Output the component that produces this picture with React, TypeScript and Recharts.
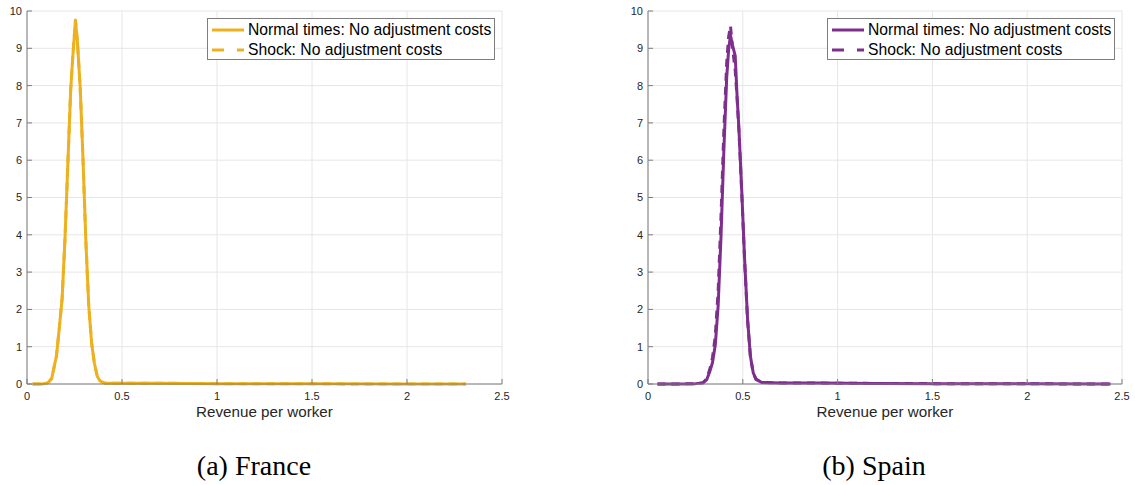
import { LineChart, Line, XAxis, YAxis, CartesianGrid, Legend } from "recharts";

const X_TICKS = [0, 0.5, 1, 1.5, 2, 2.5];
const Y_TICKS = [0, 1, 2, 3, 4, 5, 6, 7, 8, 9, 10];

const SERIES_NAMES = ["Normal times: No adjustment costs", "Shock: No adjustment costs"];

// France
const franceX = [0.03, 0.08, 0.11, 0.13, 0.155, 0.17, 0.185, 0.2, 0.215, 0.23, 0.24, 0.255, 0.265, 0.28, 0.295, 0.31, 0.325, 0.34, 0.355, 0.37, 0.385, 0.41, 0.5, 0.7, 1.0, 1.5, 2.0, 2.31];
const franceNormal = [0, 0, 0.03, 0.15, 0.75, 1.5, 2.3, 3.9, 5.9, 7.9, 8.7, 9.75, 9.2, 7.95, 6.0, 3.8, 2.1, 1.1, 0.55, 0.2, 0.08, 0.02, 0.02, 0.02, 0.01, 0.005, 0, 0];
const franceShock = [0, 0, 0.03, 0.15, 0.75, 1.5, 2.3, 3.9, 5.9, 7.9, 8.7, 9.75, 9.2, 7.95, 6.0, 3.8, 2.1, 1.1, 0.55, 0.2, 0.08, 0.02, 0.02, 0.02, 0.01, 0.005, 0, 0];

// Spain
const spainX = [0.05, 0.15, 0.25, 0.29, 0.31, 0.325, 0.34, 0.355, 0.37, 0.385, 0.4, 0.415, 0.425, 0.435, 0.445, 0.46, 0.47, 0.48, 0.495, 0.51, 0.525, 0.54, 0.555, 0.57, 0.6, 0.7, 0.9, 1.2, 1.5, 2.0, 2.44];
const spainNormal = [0, 0, 0.01, 0.03, 0.12, 0.32, 0.57, 1.05, 2.1, 3.95, 6.25, 8.2, 8.95, 9.35, 9.1, 8.8, 7.7, 6.8, 5.1, 3.3, 1.75, 0.75, 0.3, 0.13, 0.04, 0.03, 0.025, 0.015, 0.01, 0.005, 0];
const spainShock = [0, 0, 0.01, 0.035, 0.15, 0.38, 0.7, 1.3, 2.5, 4.5, 6.8, 8.6, 9.3, 9.6, 9.05, 8.4, 7.65, 6.75, 5.05, 3.25, 1.72, 0.74, 0.29, 0.12, 0.04, 0.03, 0.025, 0.015, 0.01, 0.005, 0];

const FRAME = "#7d7d7d";
const GRID = "#e6e6e6";
const TEXT = "#262626";
const SANS = "'Liberation Sans', Arial, Helvetica, sans-serif";

const buildRows = (xs: number[], a: number[], b: number[]) =>
  xs.map((x, i) => ({ x, normal: a[i], shock: b[i] }));

function LegendBox({ color }: { color: string }) {
  const row = (dash: string | undefined, label: string) => (
    <div style={{ display: "flex", alignItems: "center", height: 19.5 }}>
      <svg width={40} height={8} style={{ flex: "none", display: "block" }}>
        <line x1={4} x2={36} y1={4} y2={4} stroke={color} strokeWidth={3} strokeDasharray={dash} />
      </svg>
      <span style={{ fontSize: 15.7, color: "#000", whiteSpace: "nowrap", lineHeight: "18px" }}>{label}</span>
    </div>
  );
  return (
    <div
      style={{
        boxSizing: "border-box",
        width: 288,
        height: 42,
        border: `1px solid ${FRAME}`,
        background: "#fff",
        paddingTop: 1.5,
        fontFamily: SANS,
      }}
    >
      {row(undefined, SERIES_NAMES[0])}
      {row("12 13", SERIES_NAMES[1])}
    </div>
  );
}

function Panel({
  rows,
  color,
  left,
  width,
  marginLeft,
  marginRight,
  legendLeft,
  caption,
  captionCenter,
}: {
  rows: { x: number; normal: number; shock: number }[];
  color: string;
  left: number;
  width: number;
  marginLeft: number;
  marginRight: number;
  legendLeft: number;
  caption: string;
  captionCenter: number;
}) {
  const tickStyle = { fontSize: 11, fill: TEXT, fontFamily: SANS };
  return (
    <>
      <div style={{ position: "absolute", left, top: 0 }}>
        <LineChart
          width={width}
          height={420}
          data={rows}
          margin={{ top: 11, right: marginRight, bottom: 0, left: marginLeft }}
        >
          <CartesianGrid stroke={GRID} strokeWidth={1} />
          <XAxis
            dataKey="x"
            type="number"
            domain={[0, 2.5]}
            ticks={X_TICKS}
            height={36}
            stroke={FRAME}
            tickSize={-5}
            tickMargin={13}
            tick={tickStyle}
            allowDataOverflow
            label={{
              value: "Revenue per worker",
              position: "insideBottom",
              offset: 3,
              style: { fontSize: 15.2, fill: TEXT, fontFamily: SANS },
            }}
          />
          <XAxis
            xAxisId="top"
            orientation="top"
            type="number"
            domain={[0, 2.5]}
            ticks={X_TICKS}
            height={0}
            stroke={FRAME}
            tickSize={-5}
            tick={false}
          />
          <YAxis
            type="number"
            domain={[0, 10]}
            ticks={Y_TICKS}
            width={20}
            stroke={FRAME}
            tickSize={-5}
            tickMargin={10}
            tick={tickStyle}
          />
          <YAxis
            yAxisId="right"
            orientation="right"
            type="number"
            domain={[0, 10]}
            ticks={Y_TICKS}
            width={0}
            stroke={FRAME}
            tickSize={-5}
            tick={false}
          />
          <Line
            dataKey="normal"
            type="linear"
            stroke={color}
            strokeWidth={3}
            strokeLinejoin="round"
            dot={false}
            isAnimationActive={false}
          />
          <Line
            dataKey="shock"
            type="linear"
            stroke={color}
            strokeWidth={3}
            strokeDasharray="8 6"
            strokeLinejoin="round"
            dot={false}
            isAnimationActive={false}
          />
          <Legend
            layout="horizontal"
            verticalAlign="middle"
            align="center"
            wrapperStyle={{ top: 18, left: legendLeft, width: 288, height: 42 }}
            content={() => <LegendBox color={color} />}
          />
        </LineChart>
      </div>
      <div
        style={{
          position: "absolute",
          left: captionCenter - 100,
          width: 200,
          top: 450,
          textAlign: "center",
          fontFamily: "'Liberation Serif', 'DejaVu Serif', serif",
          fontSize: 28,
          lineHeight: "32px",
          color: "#000",
        }}
      >
        {caption}
      </div>
    </>
  );
}

export default function App() {
  return (
    <div style={{ position: "absolute", left: 0, top: 0, width: 1135, height: 485, background: "#fff" }}>
      <Panel
        rows={buildRows(franceX, franceNormal, franceShock)}
        color="#EDB120"
        left={0}
        width={560}
        marginLeft={7}
        marginRight={58}
        legendLeft={207}
        caption="(a) France"
        captionCenter={254}
      />
      <Panel
        rows={buildRows(spainX, spainNormal, spainShock)}
        color="#7E2F8E"
        left={560}
        width={575}
        marginLeft={68}
        marginRight={13}
        legendLeft={267}
        caption="(b) Spain"
        captionCenter={874}
      />
    </div>
  );
}
